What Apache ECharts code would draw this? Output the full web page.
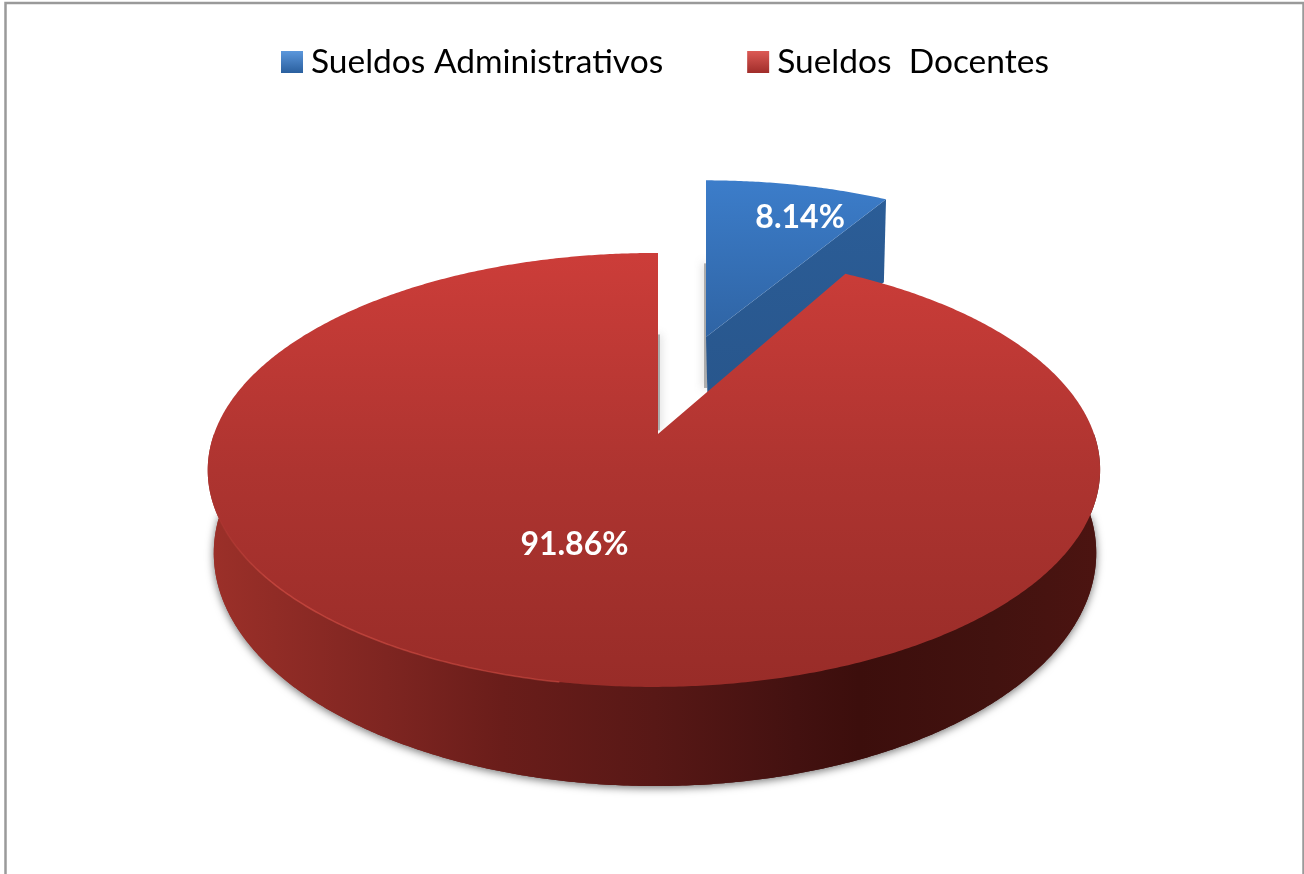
<!DOCTYPE html>
<html>
<head>
<meta charset="utf-8">
<style>html,body{margin:0;padding:0;background:#fff}#chart{width:1304px;height:874px}</style>
<script src="https://cdn.jsdelivr.net/npm/echarts@6/dist/echarts.min.js"></script>
</head>
<body>
<div id="chart"></div>
<script>
const categories = ['Sueldos Administrativos', 'Sueldos  Docentes'];
const shareValues = [8.14, 91.86];
const total = shareValues[0] + shareValues[1];

// Sweep of each slice, clockwise from twelve o'clock, in radians.
const sweeps = [
  [0, shareValues[0] / total * 2 * Math.PI],
  [shareValues[0] / total * 2 * Math.PI, 2 * Math.PI]
];

// Perspective disc: a point at angle t and radius r lands at
// (ax + A*u/D, ay - B*v/D) with u = r sin t, v = r cos t, D = 1 + k*v + m*u.
const redTop = { ax: 658, ay: 434, A: 440, B: 211, k: 0.1657, m: 0.009 };
const redBase = { ax: 655, ay: 514, A: 435, B: 226.5, k: 0.1674, m: 0 };
const blueTop = { ax: 706, ay: 337, A: 389, B: 167, k: 0.066, m: 0 };
const blueBase = { ax: 708, ay: 420, A: 380, B: 167, k: 0.066, m: 0 };

function project(disc, t, r) {
  const u = r * Math.sin(t), v = r * Math.cos(t);
  const d = 1 + disc.k * v + disc.m * u;
  return [disc.ax + disc.A * u / d, disc.ay - disc.B * v / d];
}
function arc(disc, from, to) {
  const n = Math.max(2, Math.ceil(Math.abs(to - from) / 0.008));
  const pts = [];
  for (let i = 0; i <= n; i++) pts.push(project(disc, from + (to - from) * i / n, 1));
  return pts;
}
const vGrad = (y0, y1, stops) => new echarts.graphic.LinearGradient(0, y0, 0, y1, stops, true);
const hGrad = (x0, x1, stops) => new echarts.graphic.LinearGradient(x0, 0, x1, 0, stops, true);
const pct = v => v.toFixed(2) + '%';
const labelFont = '700 32px Lato, sans-serif';
const castShadow = { fill: 'rgba(130,130,130,0.6)', shadowColor: 'rgba(110,110,110,0.85)', shadowBlur: 9 };

const wallStops = [
  { offset: 0, color: '#9c3029' },
  { offset: 0.2, color: '#7e2521' },
  { offset: 0.33, color: '#6a1d1a' },
  { offset: 0.5, color: '#581816' },
  { offset: 0.66, color: '#431110' },
  { offset: 0.73, color: '#3c0e0c' },
  { offset: 0.88, color: '#42120f' },
  { offset: 1, color: '#4c1411' }
];

function renderBlue(params, api) {
  const [a, b] = sweeps[0];
  const apex = project(blueTop, 0, 0);
  const apexLow = project(blueBase, 0, 0);
  const rimStart = project(blueTop, a, 1);
  const lp = project(blueTop, (a + b) / 2, 0.78);
  const shadowTop = rimStart[1] + (apex[1] - rimStart[1]) * 0.53;
  return {
    type: 'group',
    children: [
      {
        type: 'rect',
        shape: { x: apex[0] - 2, y: shadowTop, width: 3, height: apexLow[1] - shadowTop - 32 },
        style: castShadow
      },
      {
        type: 'polygon',
        shape: { points: [apex, project(blueTop, b, 1), project(blueBase, b, 1), apexLow] },
        style: { fill: vGrad(200, 400, [
          { offset: 0, color: '#2b5d97' },
          { offset: 1, color: '#28568c' }
        ]) }
      },
      {
        type: 'polygon',
        shape: { points: [apex].concat(arc(blueTop, a, b)) },
        style: { fill: vGrad(180, 337, [
          { offset: 0, color: '#3c7dca' },
          { offset: 1, color: '#2f64a4' }
        ]) }
      },
      {
        type: 'text',
        style: {
          text: pct(api.value(0)), x: lp[0] + 21, y: lp[1] + 1, fill: '#fff',
          font: labelFont, align: 'center', verticalAlign: 'middle'
        }
      }
    ]
  };
}

function renderRed(params, api) {
  const [a, b] = sweeps[1];
  const apex = project(redTop, 0, 0);
  const rim = arc(redTop, a, b);
  const lp = project(redTop, (a + b) / 2, 0.5);
  const halfFrom = Math.PI * 0.5, halfTo = Math.PI * 1.5;
  const baseRim = arc(redBase, halfFrom, halfTo);
  const wallRim = arc(redTop, halfFrom, halfTo);
  const edge = project(redTop, 2 * Math.PI, 1);
  const wallFill = hGrad(208, 1100, wallStops);
  return {
    type: 'group',
    children: [
      {
        type: 'rect',
        shape: { x: apex[0] - 1, y: edge[1] + (apex[1] - edge[1]) * 0.45, width: 3, height: (apex[1] - edge[1]) * 0.53 },
        style: castShadow
      },
      // Base half carries the drop shadow; its straight edge stays under the top face.
      {
        type: 'polygon',
        shape: { points: baseRim },
        style: { fill: wallFill, shadowColor: 'rgba(0,0,0,0.55)', shadowBlur: 9, shadowOffsetY: 2 }
      },
      {
        type: 'polygon',
        shape: { points: wallRim.concat(baseRim.slice().reverse()) },
        style: { fill: wallFill }
      },
      {
        type: 'polygon',
        shape: { points: [apex].concat(rim) },
        style: { fill: vGrad(253, 687, [
          { offset: 0, color: '#cc3d39' },
          { offset: 0.5, color: '#ae3430' },
          { offset: 1, color: '#982c28' }
        ]) }
      },
      // Thin highlight along the front-left rim of the top face.
      {
        type: 'polyline',
        shape: { points: arc(redTop, Math.PI * 1.06, Math.PI * 1.44) },
        style: {
          fill: 'none', lineWidth: 1.5,
          stroke: hGrad(212, 700, [
            { offset: 0, color: 'rgba(222,84,74,0)' },
            { offset: 0.12, color: 'rgba(222,84,74,0.55)' },
            { offset: 0.8, color: 'rgba(222,84,74,0.45)' },
            { offset: 1, color: 'rgba(222,84,74,0)' }
          ])
        }
      },
      {
        type: 'text',
        style: {
          text: pct(api.value(0)), x: lp[0] - 23, y: lp[1], fill: '#fff',
          font: labelFont, align: 'center', verticalAlign: 'middle'
        }
      }
    ]
  };
}

const chart = echarts.init(document.getElementById('chart'), null, { renderer: 'canvas' });
chart.setOption({
  animation: false,
  backgroundColor: '#fff',
  legend: {
    left: 276, top: 40, itemWidth: 22, itemHeight: 22, itemGap: 84,
    selectedMode: false, icon: 'rect',
    textStyle: { fontFamily: 'Lato, sans-serif', fontSize: 33.5, color: '#000', padding: [0, 0, 0, 3] },
    data: [
      { name: categories[0], itemStyle: { color: vGrad(0, 22, [
        { offset: 0, color: '#5b97dc' }, { offset: 1, color: '#2a5f9e' }
      ]) } },
      { name: categories[1], itemStyle: { color: vGrad(0, 22, [
        { offset: 0, color: '#dc5a55' }, { offset: 1, color: '#a02d2a' }
      ]) } }
    ]
  },
  graphic: [{
    type: 'polyline', silent: true,
    shape: { points: [[5.5, 874], [5.5, 3], [1303.5, 3], [1303.5, 874]] },
    style: { fill: 'none', stroke: '#9a9a9a', lineWidth: 2.5 }
  }],
  series: [
    { type: 'custom', name: categories[0], coordinateSystem: 'none', data: [[shareValues[0]]], renderItem: renderBlue, itemStyle: { color: '#3c7dca' } },
    { type: 'custom', name: categories[1], coordinateSystem: 'none', data: [[shareValues[1]]], renderItem: renderRed, itemStyle: { color: '#cc3d39' } }
  ]
});
</script>
</body>
</html>
